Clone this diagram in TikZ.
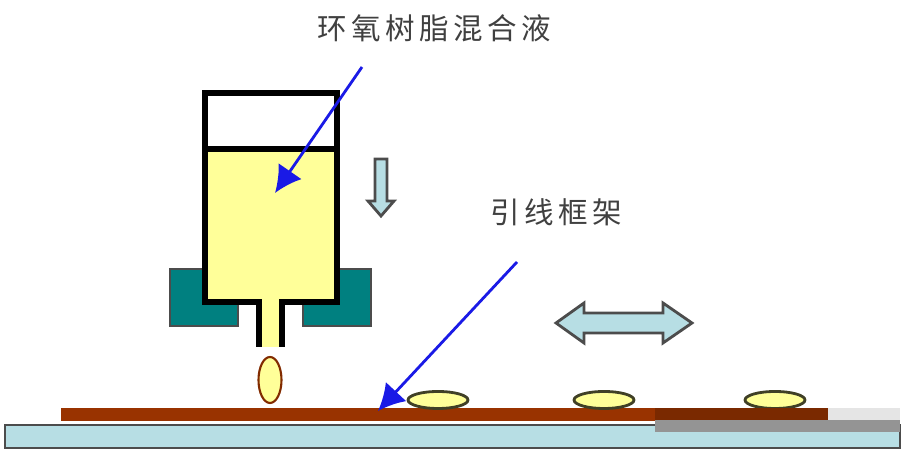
\documentclass[tikz,border=0pt]{standalone}
\usepackage{fontspec}
\usepackage{xcolor}
\usepackage{tikz}
\usetikzlibrary{arrows.meta, shapes.geometric, positioning}
\newfontfamily\cjk[LetterSpace=15]{Noto Sans CJK SC}

\definecolor{resin}{HTML}{FFFF99}
\definecolor{holder}{HTML}{008080}
\definecolor{frame}{HTML}{993300}
\definecolor{stage}{HTML}{B7DEE4}
\definecolor{pointer}{HTML}{1A1AE6}

\tikzset{
    wall/.style={line width=1.7pt, line cap=butt},
    blockshape/.style={draw=black!70, line width=0.4pt, fill=holder},
    dropshape/.style={ellipse, draw=black!75!resin, line width=0.8pt, fill=resin, inner sep=0pt},
    labeltext/.style={font=\cjk\fontsize{8.4}{10}\selectfont, text=black!75, inner sep=0pt},
    pointerline/.style={->, draw=pointer, line width=0.8pt},
    movearrow/.style={draw=black!70, line width=0.8pt, fill=stage, line join=miter}
}

\begin{document}
\begin{tikzpicture}[>={Latex[length=7.5pt,width=8pt]}]
    \useasboundingbox (0,0) rectangle (9.06,4.54);

    % Giá đỡ
    \draw[blockshape] (1.70,1.85) rectangle (2.38,1.28);
    \draw[blockshape] (3.03,1.85) rectangle (3.71,1.28);

    % Xi lanh
    \fill[white] (2.05,3.61) rectangle (3.37,3.05);
    \fill[resin] (2.05,3.05) rectangle (3.37,1.52);
    \fill[resin] (2.59,1.52) rectangle (2.82,1.07);
    \draw[wall] (2.59,1.07) -- (2.59,1.52) -- (2.05,1.52) -- (2.05,3.61)
        -- (3.37,3.61) -- (3.37,1.52) -- (2.82,1.52) -- (2.82,1.07);
    \draw[wall] (2.05,3.05) -- (3.37,3.05);

    % Giọt keo
    \node[ellipse, draw=frame!85!black, line width=0.6pt, fill=resin, inner sep=0pt,
        minimum width=0.23cm, minimum height=0.46cm] (drop) at (2.70,0.74) {};

    % Mũi tên chuyển động
    \draw[movearrow] (3.75,2.95) -- (3.87,2.95) -- (3.87,2.53) -- (3.94,2.53)
        -- (3.81,2.38) -- (3.68,2.53) -- (3.75,2.53) -- cycle;
    \draw[movearrow] (5.56,1.31) -- (5.84,1.51) -- (5.84,1.41) -- (6.63,1.41) -- (6.63,1.51)
        -- (6.92,1.31) -- (6.63,1.11) -- (6.63,1.21) -- (5.84,1.21) -- (5.84,1.11) -- cycle;

    % Bàn và khung dẫn
    \draw[draw=black!70, line width=0.7pt, fill=stage] (0.05,0.29) rectangle (9.00,0.06);
    \fill[frame] (0.61,0.46) rectangle (8.28,0.33);

    % Các giọt trên khung
    \foreach \name/\px in {dotA/4.38, dotB/6.04, dotC/7.75}
        \node[dropshape, minimum width=0.60cm, minimum height=0.17cm] (\name) at (\px,0.54) {};

    % Vùng bị che
    \fill[black!42] (6.55,0.34) rectangle (9.00,0.22);
    \fill[frame!80!black] (6.55,0.46) rectangle (8.28,0.34);
    \fill[black!10] (8.28,0.46) rectangle (9.00,0.34);

    % Nhãn
    \node[labeltext] (resinlabel) at (4.34,4.26) {环氧树脂混合液};
    \node[labeltext] (framelabel) at (5.56,2.42) {引线框架};

    % Đường chỉ
    \coordinate (resinstart) at (3.62,3.87);
    \coordinate (resinend) at (2.75,2.61);
    \coordinate (framestart) at (5.17,1.92);
    \coordinate (frameend) at (3.78,0.43);
    \draw[pointerline] (resinstart) -- (resinend);
    \draw[pointerline] (framestart) -- (frameend);
\end{tikzpicture}
\end{document}
